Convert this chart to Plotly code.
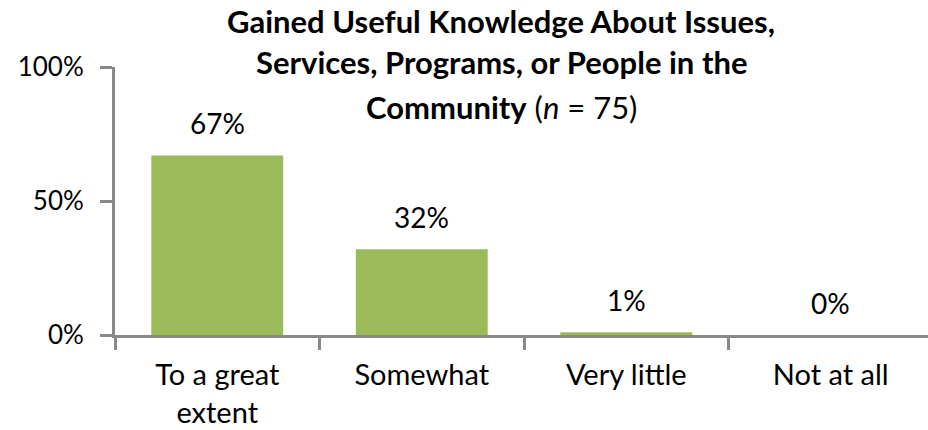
import plotly.graph_objects as go

# Survey responses (share of respondents, n = 75)
categories = ["To a great<br>extent", "Somewhat", "Very little", "Not at all"]
values = [0.67, 0.32, 0.01, 0.00]
value_labels = ["67%", "32%", "1%", "0%"]
y_ticks = [0, 0.5, 1.0]
y_tick_text = ["0%", "50%", "100%"]

title_lines = [
    "<b>Gained Useful Knowledge About Issues,</b>",
    "<b>Services, Programs, or People in the</b>",
    "<b>Community</b> (<i>n</i> = 75)",
]

W, H = 928, 430
M_L, M_R, M_T, M_B = 115, 0, 67, 95
BAR_COLOR = "#9BBB59"
AXIS_COLOR = "#898989"
FONT = "Lato"

fig = go.Figure(
    go.Bar(
        x=categories,
        y=values,
        marker=dict(color=BAR_COLOR, line=dict(width=0)),
        width=0.645,
        hoverinfo="skip",
    )
)

# value labels above the bars
for cat, v, lab in zip(categories, values, value_labels):
    fig.add_annotation(
        x=cat, y=v, text=lab, showarrow=False,
        xref="x", yref="y", yanchor="bottom", yshift=13,
        font=dict(family=FONT, size=28, color="black"),
    )

# three-line title, positioned in pixels (first line hangs from the top edge)
plot_h = H - M_T - M_B
plot_w = W - M_L - M_R
title_pos_px = [(0, "top"), (62, "middle"), (107, "middle")]
title_x_px = 501
for line, (py, anchor) in zip(title_lines, title_pos_px):
    fig.add_annotation(
        x=(title_x_px - M_L) / plot_w, y=(H - M_B - py) / plot_h,
        xref="paper", yref="paper", xanchor="center", yanchor=anchor,
        text=line, showarrow=False,
        font=dict(family=FONT, size=31, color="black"),
    )

cat_px = 204.5
x_max = -0.5 + plot_w / cat_px

fig.update_layout(
    width=W, height=H,
    margin=dict(l=M_L, r=M_R, t=M_T, b=M_B, pad=0),
    paper_bgcolor="white", plot_bgcolor="white",
    showlegend=False,
    font=dict(family=FONT, size=26, color="black"),
    xaxis=dict(
        type="category", range=[-0.5, x_max],
        showline=True, linecolor=AXIS_COLOR, linewidth=3,
        ticks="outside", tickson="boundaries", ticklen=12,
        tickwidth=3, tickcolor=AXIS_COLOR,
        showgrid=False, zeroline=False,
        ticklabelstandoff=12,
        tickfont=dict(family=FONT, size=29, color="black"),
    ),
    yaxis=dict(
        range=[0, 1], tickvals=y_ticks, ticktext=y_tick_text,
        showline=True, linecolor=AXIS_COLOR, linewidth=3,
        ticks="outside", ticklen=12, tickwidth=3, tickcolor=AXIS_COLOR,
        showgrid=False, zeroline=False,
        ticklabelstandoff=11,
        tickfont=dict(family=FONT, size=26, color="black"),
    ),
)

fig.write_html("out.html")
